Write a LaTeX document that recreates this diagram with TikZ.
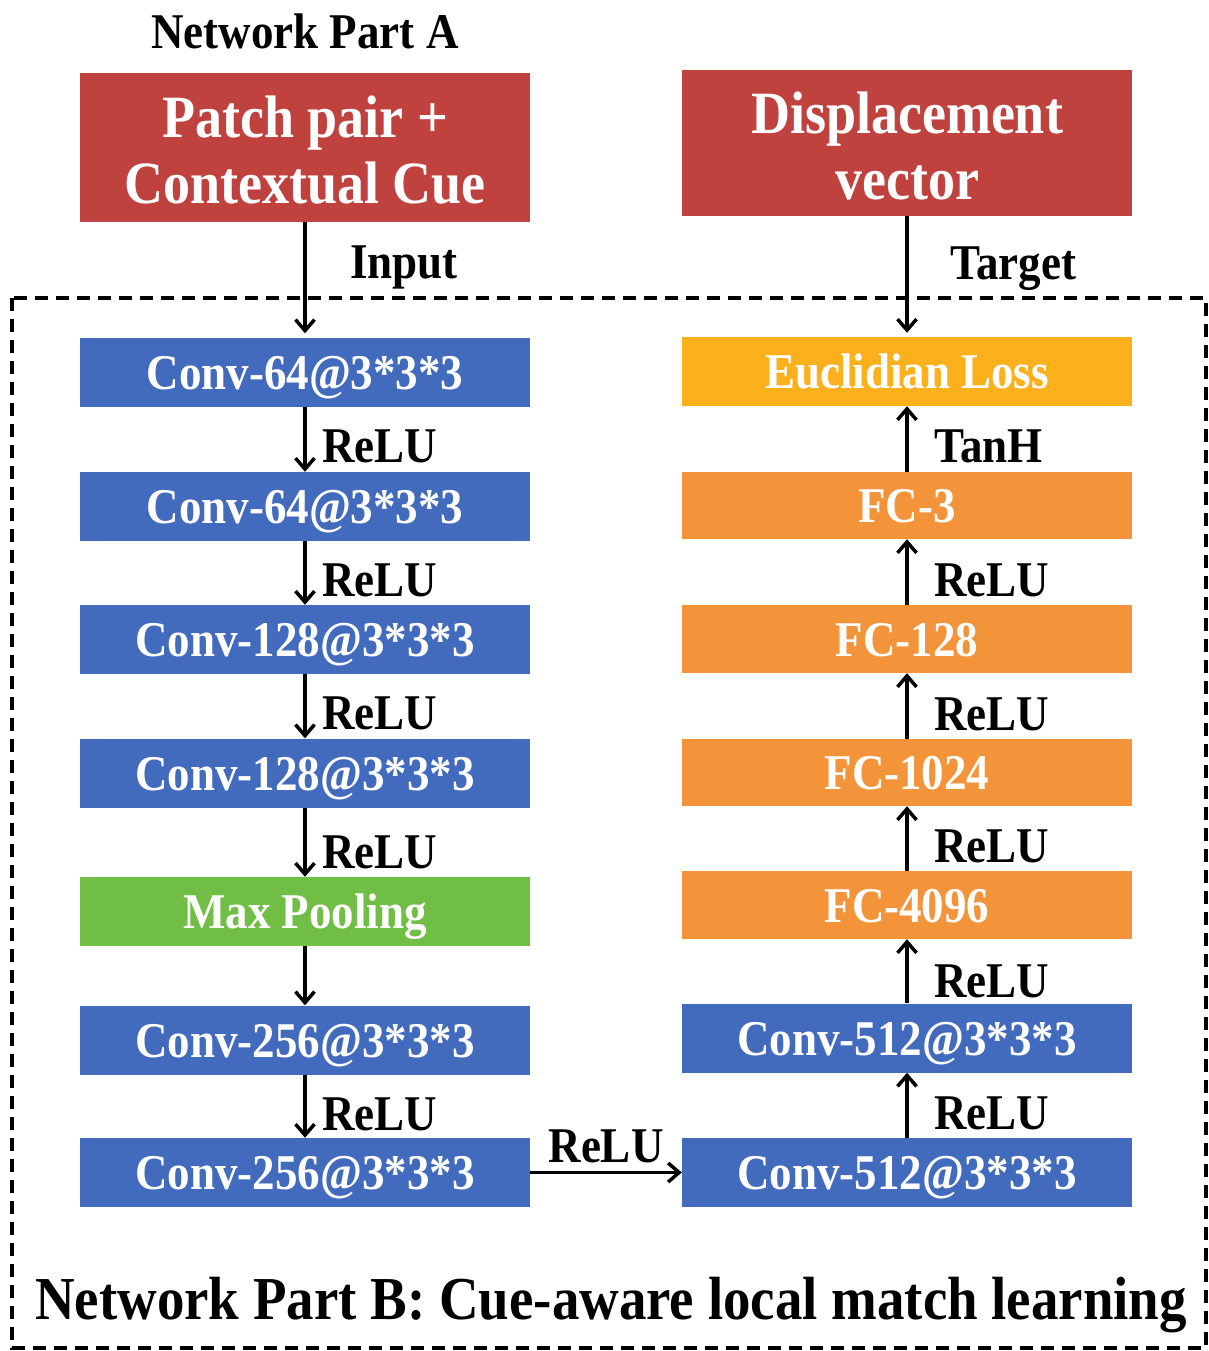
\documentclass[tikz,border=0pt]{standalone}
\usepackage{fontspec}
\setmainfont{Liberation Serif}[FakeStretch=0.9]
\usetikzlibrary{arrows.meta}
\definecolor{inred}{RGB}{192,66,63}
\definecolor{convblue}{RGB}{66,106,189}
\definecolor{poolgreen}{RGB}{112,190,70}
\definecolor{fcorange}{RGB}{244,148,58}
\definecolor{lossyellow}{RGB}{251,176,28}
\tikzset{
  layer/.style={minimum width=450pt, minimum height=69pt, inner sep=0pt,
    text height=34pt, text depth=0pt,
    text=white, font=\fontsize{50}{54}\selectfont\bfseries},
  inbox/.style={minimum width=450pt, minimum height=148pt, inner sep=0pt,
    fill=inred},
  intext/.style={inner sep=0pt, text=white, align=center,
    font=\fontsize{60}{66}\selectfont\bfseries},
  lbl/.style={inner sep=0pt, font=\fontsize{50}{54}\selectfont\bfseries},
  flow/.style={line width=3.5pt, -{Straight Barb[length=11pt,width=19pt,line width=3.5pt]}},
}
\begin{document}
\begin{tikzpicture}[x=1pt,y=-1pt]
\useasboundingbox (0,0) rectangle (1209,1351);

% headings
\node[font=\fontsize{50}{54}\selectfont\bfseries] (ta) at (305,31) {Network Part A};

% inputs
\node[inbox] (inp) at (305,147.5) {};
\node[intext] (inpt) at ([yshift=-3pt]inp.center) {Patch pair +\\Contextual Cue};
\node[inbox, minimum height=146pt] (disp) at (907,143) {};
\node[intext] (dispt) at ([yshift=-3pt]disp.center) {Displacement\\vector};

% frame of part B
\draw[line width=3.5pt, dash pattern=on 13pt off 8pt] (12,298) rectangle (1206,1348);
\node[font=\fontsize{61}{66}\selectfont\bfseries] (tb) at (611,1305)
  {Network Part B: Cue-aware local match learning};

% left column
\node[layer, fill=convblue] (c1) at (305,372) {Conv-64@3*3*3};
\node[layer, fill=convblue] (c2) at (305,506.5) {Conv-64@3*3*3};
\node[layer, fill=convblue] (c3) at (305,639.5) {Conv-128@3*3*3};
\node[layer, fill=convblue] (c4) at (305,773) {Conv-128@3*3*3};
\node[layer, fill=poolgreen] (mp) at (305,911.5) {Max Pooling};
\node[layer, fill=convblue] (c5) at (305,1040) {Conv-256@3*3*3};
\node[layer, fill=convblue] (c6) at (305,1172.5) {Conv-256@3*3*3};

% right column
\node[layer, fill=lossyellow] (loss) at (907,371.5) {Euclidian Loss};
\node[layer, minimum height=67pt, fill=fcorange] (f3) at (907,505.5) {FC-3};
\node[layer, minimum height=68pt, fill=fcorange] (f128) at (907,639) {FC-128};
\node[layer, minimum height=67pt, fill=fcorange] (f1024) at (907,772.5) {FC-1024};
\node[layer, minimum height=68pt, fill=fcorange] (f4096) at (907,905) {FC-4096};
\node[layer, fill=convblue] (c7) at (907,1038) {Conv-512@3*3*3};
\node[layer, fill=convblue] (c8) at (907,1172.5) {Conv-512@3*3*3};

% connectors
\draw[flow] (inp.south) -- ([yshift=4pt]c1.north);
\draw[flow] (disp.south) -- ([yshift=4pt]loss.north);
\draw[flow] (c1) -- (c2);
\draw[flow] (c2) -- (c3);
\draw[flow] (c3) -- (c4);
\draw[flow] (c4) -- (mp);
\draw[flow] (mp) -- (c5);
\draw[flow] (c5) -- (c6);
\draw[flow] (c6) -- (c8);
\draw[flow] (c8) -- (c7);
\draw[flow] (c7) -- (f4096);
\draw[flow] (f4096) -- (f1024);
\draw[flow] (f1024) -- (f128);
\draw[flow] (f128) -- (f3);
\draw[flow] (f3) -- (loss);

% connector labels
\node[lbl, anchor=west] (lin) at (350,267) {Input};
\node[lbl, anchor=west] (ltg) at (950,269) {Target};
\node[lbl, anchor=west] (l1) at (322,446) {ReLU};
\node[lbl, anchor=west] (l2) at (322,580) {ReLU};
\node[lbl, anchor=west] (l3) at (322,713) {ReLU};
\node[lbl, anchor=west] (l4) at (322,852) {ReLU};
\node[lbl, anchor=west] (l5) at (322,1114) {ReLU};
\node[lbl] (l6) at (606,1146) {ReLU};
\node[lbl, anchor=west] (r1) at (934,446) {TanH};
\node[lbl, anchor=west] (r2) at (934,580) {ReLU};
\node[lbl, anchor=west] (r3) at (934,714) {ReLU};
\node[lbl, anchor=west] (r4) at (934,846) {ReLU};
\node[lbl, anchor=west] (r5) at (934,981) {ReLU};
\node[lbl, anchor=west] (r6) at (934,1113) {ReLU};
\end{tikzpicture}
\end{document}
